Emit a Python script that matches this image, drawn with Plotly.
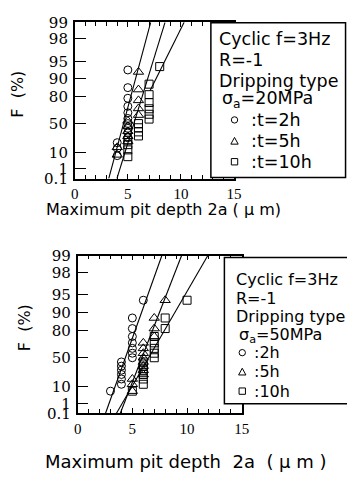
import numpy as np
import plotly.graph_objects as go

# The page body adds an 8 px margin, so the figure is 8 px smaller on each axis
OFF = 8
W, H = 355 - OFF, 479 - OFF

# ---------------- data ----------------
# y tick levels of the Gumbel (extreme value) probability paper, F in %
f_levels = [99, 98, 95, 90, 80, 50, 10, 1, 0.1]
f_labels = ["99", "98", "95", "90", "80", "50", "10", "1", "0.1"]
x_ticks = [0, 5, 10, 15]

# Top panel: sigma_a = 20 MPa
p1_circle_x = [4, 4, 4, 5, 5, 5, 5, 5, 5, 5, 5, 5, 5]
p1_circle_F = [7.1, 14.3, 21.4, 28.6, 35.7, 42.9, 50.0, 57.1, 64.3, 71.4, 78.6, 85.7, 92.9]
p1_tri_x = [4, 4, 5, 5, 5, 5, 5, 6, 6, 6, 6, 6]
p1_tri_F = [7.7, 15.4, 23.1, 30.8, 38.5, 46.2, 53.8, 61.5, 69.2, 76.9, 84.6, 92.3]
p1_sq_x = [5, 5, 5, 5, 6, 6, 6, 6, 7, 7, 7, 7, 7, 7, 8]
p1_sq_F = [6.3, 12.5, 18.8, 25.0, 31.3, 37.5, 43.8, 50.0, 56.3, 62.5, 68.8, 75.0, 81.3, 87.5, 93.8]
# fitted lines: (x_start, F_start, x_end, F_end)
p1_fit_2h = [3.2, 0.1, 7.15, 99]
p1_fit_5h = [3.97, 0.1, 8.5, 99]
p1_fit_10h = [7.1, 84, 10.3, 99]
p1_header = ["Cyclic f=3Hz", "R=-1", "Dripping type", "σ<sub>a</sub>=20MPa"]
p1_items = [":t=2h", ":t=5h", ":t=10h"]

# Bottom panel: sigma_a = 50 MPa
p2_circle_x = [3, 4, 4, 4, 4, 4, 4, 5, 5, 5, 5, 5, 5, 5, 6]
p2_circle_F = [6.3, 12.5, 18.8, 25.0, 31.3, 37.5, 43.8, 50.0, 56.3, 62.5, 68.8, 75.0, 81.3, 87.5, 93.8]
p2_tri_x = [5, 5, 5, 6, 6, 6, 6, 6, 6, 6, 6, 7, 7, 7, 8]
p2_tri_F = [6.3, 12.5, 18.8, 25.0, 31.3, 37.5, 43.8, 50.0, 56.3, 62.5, 68.8, 75.0, 81.3, 87.5, 93.8]
p2_sq_x = [5, 6, 6, 6, 6, 6, 6, 7, 7, 7, 7, 7, 8, 8, 10]
p2_sq_F = [6.3, 12.5, 18.8, 25.0, 31.3, 37.5, 43.8, 50.0, 56.3, 62.5, 68.8, 75.0, 81.3, 87.5, 93.8]
p2_fit_2h = [2.55, 0.1, 7.7, 99]
p2_fit_5h = [3.9, 0.1, 9.5, 99]
p2_fit_10h = [3.55, 0.1, 11.9, 99]
p2_header = ["Cyclic f=3Hz", "R=-1", "Dripping type", "σ<sub>a</sub>=50MPa"]
p2_items = [":2h", ":5h", ":10h"]


def gum(F):
    """Gumbel reduced variate for F in percent."""
    return -np.log(-np.log(np.asarray(F, dtype=float) / 100.0))


def px(x):
    return (x - OFF) / W


def py(y):
    return 1 - (y - OFF) / H


SANS = "DejaVu Sans"
BLACK = "black"
fig = go.Figure()

marker_specs = [("circle-open", 8), ("triangle-up-open", 9), ("square-open", 8)]


def add_panel(xa, ya, series, fits):
    for (sym, size), (xs, Fs) in zip(marker_specs, series):
        fig.add_trace(go.Scatter(
            x=xs, y=gum(Fs), mode="markers", xaxis=xa, yaxis=ya, showlegend=False,
            marker=dict(symbol=sym, size=size, color=BLACK, line=dict(color=BLACK, width=1)),
        ))
    for fit in fits:
        fig.add_trace(go.Scatter(
            x=[fit[0], fit[2]], y=gum([fit[1], fit[3]]), mode="lines",
            xaxis=xa, yaxis=ya, showlegend=False, line=dict(color=BLACK, width=1.1),
        ))


add_panel("x", "y",
          [(p1_circle_x, p1_circle_F), (p1_tri_x, p1_tri_F), (p1_sq_x, p1_sq_F)],
          [p1_fit_2h, p1_fit_5h, p1_fit_10h])
add_panel("x2", "y2",
          [(p2_circle_x, p2_circle_F), (p2_tri_x, p2_tri_F), (p2_sq_x, p2_sq_F)],
          [p2_fit_2h, p2_fit_5h, p2_fit_10h])

yr = [float(gum(0.1)), float(gum(99))]


def xaxis_cfg(dom, anchor):
    return dict(
        domain=dom, anchor=anchor, range=[0, 15], tickvals=x_ticks,
        ticks="inside", ticklen=5, tickwidth=1.2, tickcolor=BLACK,
        minor=dict(dtick=1, ticks="inside", ticklen=4, tickwidth=1.2, tickcolor=BLACK),
        showline=True, linecolor=BLACK, linewidth=1.6, mirror="ticks",
        showgrid=False, zeroline=False, ticklabelstandoff=1,
        tickfont=dict(family="Liberation Serif", size=15, color=BLACK),
    )


def yaxis_cfg(dom, anchor):
    return dict(
        domain=dom, anchor=anchor, range=yr,
        tickvals=list(gum(f_levels)), ticktext=f_labels,
        ticks="inside", ticklen=11, tickwidth=1.2, tickcolor=BLACK,
        showline=True, linecolor=BLACK, linewidth=1.6, mirror=True,
        showgrid=False, zeroline=False, ticklabelstandoff=2,
        tickfont=dict(family="DejaVu Serif", size=15, color=BLACK),
    )


shapes = []
annotations = []


def text(t, x, y, size, xanchor="left", angle=0):
    annotations.append(dict(
        text=t, x=px(x), y=py(y), xref="paper", yref="paper", showarrow=False,
        xanchor=xanchor, yanchor="middle", textangle=angle,
        font=dict(family=SANS, size=size, color=BLACK),
    ))


def legend_box(box, header, header_x, header_y, items, key_x, item_x, item_y, size):
    x0, y0, x1, y1 = box
    shapes.append(dict(type="rect", xref="paper", yref="paper", layer="above",
                       x0=px(x0), x1=px(x1), y0=py(y1), y1=py(y0),
                       line=dict(color=BLACK, width=1.5), fillcolor="white"))
    for t, y in zip(header, header_y):
        text(t, header_x + (3 if t.startswith("σ") else 0), y, size)
    r = 3.3
    for k, (t, y) in enumerate(zip(items, item_y)):
        if k == 0:
            shapes.append(dict(type="circle", xref="paper", yref="paper", layer="above",
                               x0=px(key_x - r), x1=px(key_x + r), y0=py(y + r), y1=py(y - r),
                               line=dict(color=BLACK, width=1)))
        elif k == 1:
            path = "M {:.5f},{:.5f} L {:.5f},{:.5f} L {:.5f},{:.5f} Z".format(
                px(key_x - 3.8), py(y + 3.2), px(key_x + 3.8), py(y + 3.2), px(key_x), py(y - 3.8))
            shapes.append(dict(type="path", xref="paper", yref="paper", layer="above",
                               path=path, line=dict(color=BLACK, width=1)))
        else:
            shapes.append(dict(type="rect", xref="paper", yref="paper", layer="above",
                               x0=px(key_x - r), x1=px(key_x + r), y0=py(y + r), y1=py(y - r),
                               line=dict(color=BLACK, width=1)))
        text(t, item_x, y, size)


legend_box((214, 14, 353.5, 175), p1_header, 220, [31, 52.5, 75, 93.5],
           p1_items, 238.5, 254, [115, 137, 158.5], 17.5)
legend_box((228, 258, 365, 410), p2_header, 238, [280.5, 300.5, 319, 339],
           p2_items, 246.5, 257, [357, 377, 397], 16)

text("Maximum pit depth 2a ( μ m)", 165, 208, 16, xanchor="center")
text("Maximum pit depth  2a  ( μ m )", 188, 470, 18, xanchor="center")
text("F  (%)", 14, 88, 16, xanchor="center", angle=-90)
text("F  (%)", 21, 331, 16, xanchor="center", angle=-90)

fig.update_layout(
    width=W, height=H, margin=dict(l=0, r=0, t=0, b=0, pad=0),
    paper_bgcolor="white", plot_bgcolor="rgba(0,0,0,0)", showlegend=False,
    xaxis=xaxis_cfg([px(73), px(238)], "y"),
    yaxis=yaxis_cfg([py(176), py(13.5)], "x"),
    xaxis2=xaxis_cfg([px(76), px(246)], "y2"),
    yaxis2=yaxis_cfg([py(420), py(256)], "x2"),
    shapes=shapes, annotations=annotations,
)

fig.write_html("out.html")
